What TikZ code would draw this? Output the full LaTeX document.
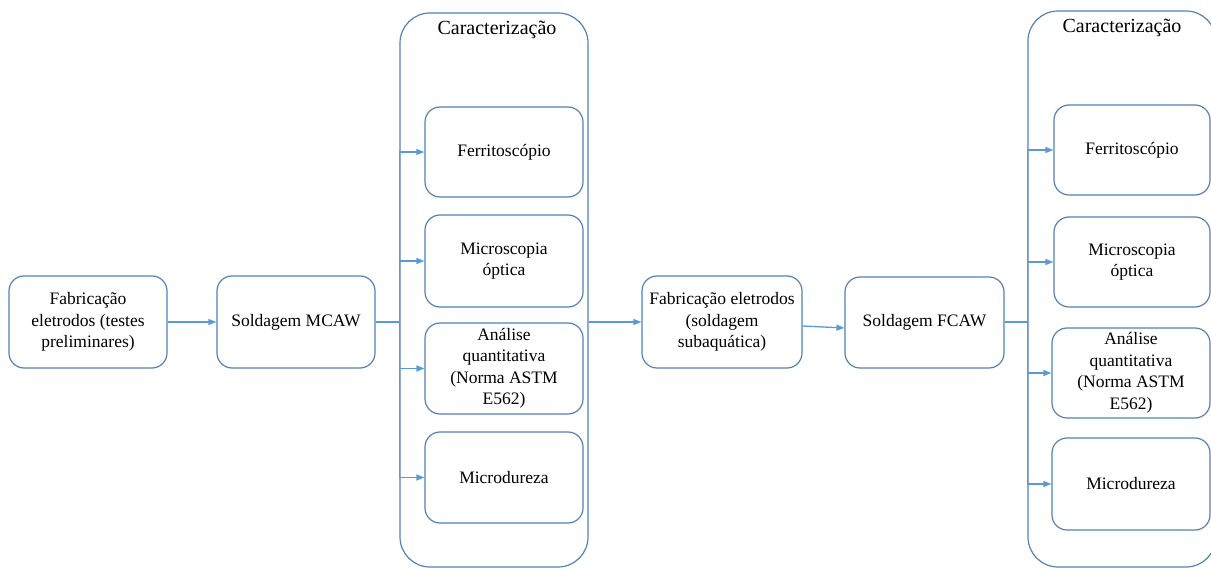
\documentclass[tikz,border=0pt]{standalone}
\usepackage{fontspec}
\setmainfont{Liberation Serif}
\usetikzlibrary{arrows.meta,calc}
\definecolor{boxline}{RGB}{84,130,181}
\definecolor{arrline}{RGB}{91,155,213}
\tikzset{
  box/.style={draw=boxline, line width=1.2pt, rounded corners=15pt, align=center,
    inner sep=2pt, font=\fontsize{17.5}{21.5}\selectfont},
  cont/.style={draw=boxline, line width=1.2pt, rounded corners=30pt},
  ttl/.style={font=\fontsize{20}{24}\selectfont, inner sep=0pt},
  arr/.style={draw=arrline, line width=1.3pt, -{Triangle[length=8pt,width=6pt]}},
  trunk/.style={draw=arrline, line width=2pt},
  vtrunk/.style={draw=arrline, line width=1.3pt},
}
\begin{document}
\begin{tikzpicture}[x=1pt,y=-1pt]
\clip (0,0) rectangle (1211,569);
\fill[white] (0,0) rectangle (1211,569);
% containers
\node[cont, minimum width=188pt, minimum height=554pt] (c1) at (494,290) {};
\node[ttl] (t1) at (497,30) {Caracterização};
\node[cont, minimum width=188pt, minimum height=556pt] (c2) at (1122,289) {};
\node[ttl] (t2) at (1122,28) {Caracterização};
% main flow
\node[box, minimum width=158pt, minimum height=92pt] (b1) at (88,322) {Fabricação\\eletrodos (testes\\preliminares)};
\node[box, minimum width=158pt, minimum height=92pt] (b2) at (296,322) {Soldagem MCAW};
\node[box, minimum width=160pt, minimum height=92pt] (b3) at (722,322) {Fabricação eletrodos\\(soldagem\\subaquática)};
\node[box, minimum width=159pt, minimum height=91pt] (b4) at (924.5,322.5) {Soldagem FCAW};
% left characterization boxes
\node[box, minimum width=158pt, minimum height=90pt] (f1) at (504,152) {Ferritoscópio};
\node[box, minimum width=158pt, minimum height=92pt] (m1) at (504,261) {Microscopia\\óptica};
\node[box, minimum width=158pt, minimum height=91pt] (a1) at (504,368.5) {Análise\\quantitativa\\(Norma ASTM\\E562)};
\node[box, minimum width=158pt, minimum height=91pt] (d1) at (504,477.5) {Microdureza};
% right characterization boxes
\node[box, minimum width=156pt, minimum height=90pt] (f2) at (1132,150) {Ferritoscópio};
\node[box, minimum width=156pt, minimum height=90pt] (m2) at (1132,262) {Microscopia\\óptica};
\node[box, minimum width=158pt, minimum height=90pt] (a2) at (1131,373) {Análise\\quantitativa\\(Norma ASTM\\E562)};
\node[box, minimum width=158pt, minimum height=92pt] (d2) at (1131,484) {Microdureza};
% connectors
\draw[arr] (b1.east) -- (b2.west);
\draw[trunk] (b2.east) -- (c1.west |- b2.east);
\draw[vtrunk] (c1.west |- f1.west) -- (c1.west |- d1.west);
\draw[arr] (c1.west |- f1.west) -- (f1.west);
\draw[arr] (c1.west |- m1.west) -- (m1.west);
\draw[arr] (c1.west |- a1.west) -- (a1.west);
\draw[arr] (c1.west |- d1.west) -- (d1.west);
\draw[arr] (c1.east |- b3.west) -- (b3.west);
\draw[arr] ($(b3.east)+(0,4)$) -- ($(b4.west)+(0,5.5)$);
\draw[trunk] (b4.east) -- (c2.west |- b4.east);
\draw[vtrunk] (c2.west |- f2.west) -- (c2.west |- d2.west);
\draw[arr] (c2.west |- f2.west) -- (f2.west);
\draw[arr] (c2.west |- m2.west) -- (m2.west);
\draw[arr] (c2.west |- a2.west) -- (a2.west);
\draw[arr] (c2.west |- d2.west) -- (d2.west);
\end{tikzpicture}
\end{document}
